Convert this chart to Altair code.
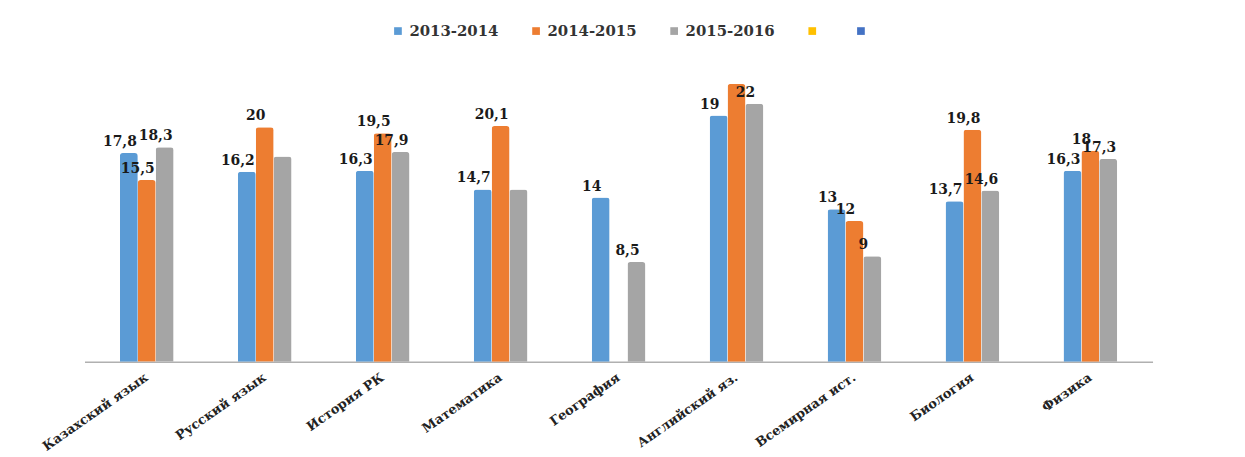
import altair as alt
import pandas as pd

subjects = ["Казахский язык", "Русский язык", "История РК", "Математика", "География",
            "Английский яз.", "Всемирная ист.", "Биология", "Физика"]
series = ["2013-2014", "2014-2015", "2015-2016"]
legend_extra = [" ", "  "]
colors = ["#5B9BD5", "#ED7D31", "#A5A5A5", "#FFC000", "#4472C4"]

v_2013 = [17.8, 16.2, 16.3, 14.7, 14.0, 21.0, 13.0, 13.7, 16.3]
v_2014 = [15.5, 20.0, 19.5, 20.1, None, 23.7, 12.0, 19.8, 18.0]
v_2015 = [18.3, 17.5, 17.9, 14.7, 8.5, 22.0, 9.0, 14.6, 17.3]

t_2013 = ["17,8", "16,2", "16,3", "14,7", "14", "19", "13", "13,7", "16,3"]
t_2014 = ["15,5", "20", "19,5", "20,1", "", "", "12", "19,8", "18"]
t_2015 = ["18,3", "", "17,9", "", "8,5", "22", "9", "14,6", "17,3"]

rows = []
for s, vals, txts in zip(series, [v_2013, v_2014, v_2015], [t_2013, t_2014, t_2015]):
    for subj, v, t in zip(subjects, vals, txts):
        if v is None:
            continue
        rows.append({"subject": subj, "series": s, "value": v, "label": t})
df = pd.DataFrame(rows)

W = 1075
H = 318.6
YMAX = 27

serif = "DejaVu Serif"

x_enc = alt.X("subject:N", sort=subjects,
              scale=alt.Scale(paddingInner=0.545, paddingOuter=0.3),
              axis=alt.Axis(title=None, labelAngle=325, labelAlign="right",
                            labelBaseline="middle", labelPadding=14,
                            labelFont=serif, labelFontWeight="bold",
                            labelFontSize=13, labelColor="#222",
                            domain=True, domainColor="#b0b0b0", domainWidth=1.5,
                            ticks=False))
xo_enc = alt.XOffset("series:N", sort=series, scale=alt.Scale(domain=series, paddingInner=0))
y_enc = alt.Y("value:Q", scale=alt.Scale(domain=[0, YMAX], nice=False), axis=None)

base = alt.Chart(df)

bars = base.mark_bar(cornerRadiusTopLeft=3, cornerRadiusTopRight=3).encode(
    x=x_enc,
    xOffset=xo_enc,
    y=y_enc,
    color=alt.Color("series:N",
                    scale=alt.Scale(domain=series + legend_extra, range=colors),
                    legend=alt.Legend(title=None, orient="none", direction="horizontal",
                                      columns=5, legendX=308, legendY=-22,
                                      symbolType="square", symbolSize=60,
                                      symbolStrokeWidth=0,
                                      labelFont=serif, labelFontWeight="bold",
                                      labelFontSize=15, labelColor="#333",
                                      labelExpr="trim(datum.label)",
                                      columnPadding=30, padding=0)),
)

labels = base.mark_text(baseline="bottom", dy=-4, dx=-9, font=serif,
                        fontWeight="bold", fontSize=14, color="#1a1a1a").encode(
    x=x_enc,
    xOffset=xo_enc,
    y=y_enc,
    text="label:N",
)

chart = alt.layer(bars, labels).properties(
    width=W, height=H,
    autosize=alt.AutoSizeParams(type="none"),
    padding={"left": 77, "top": 36, "right": 85, "bottom": 94},
).configure_view(stroke=None)

chart.save("out.html", embed_options={"renderer": "svg", "actions": False})
